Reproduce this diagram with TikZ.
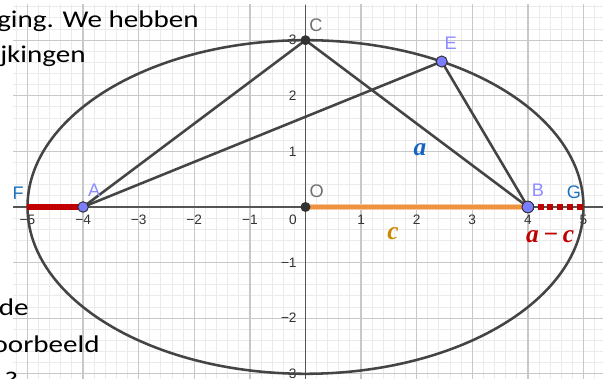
\documentclass[tikz,border=0pt]{standalone}
\usepackage{fontspec}
\setmainfont{Liberation Sans}
\newfontfamily\slidefont{Carlito}
\newfontfamily\lenfont{Liberation Serif}
\definecolor{minorgrid}{HTML}{EBEBEB}
\definecolor{majorgrid}{HTML}{C8C8C8}
\definecolor{axisc}{HTML}{555555}
\definecolor{segc}{HTML}{444444}
\definecolor{ptdark}{HTML}{333333}
\definecolor{ptblue}{HTML}{7D7DFF}
\definecolor{labblue}{HTML}{8C8CFF}
\definecolor{labgray}{HTML}{707070}
\definecolor{labdeep}{HTML}{1C72BF}
\definecolor{redc}{HTML}{C00000}
\definecolor{orangec}{HTML}{EE9440}
\definecolor{orangehalo}{HTML}{F7C9A0}
\definecolor{goldc}{HTML}{CC8A00}
\definecolor{bluec}{HTML}{1565C0}
\definecolor{tickc}{HTML}{333333}
\newcommand{\slidetxt}[1]{\scalebox{1.21}[1]{\slidefont\fontsize{12.3}{14}\selectfont #1}}
\begin{document}
\begin{tikzpicture}[x=1cm,y=1cm,
  seg/.style={draw=segc, line width=1.3pt, line cap=round},
  ptlab/.style={font=\fontsize{9.3}{11}\selectfont, inner sep=0pt},
  ticklab/.style={font=\fontsize{7}{8}\selectfont, text=tickc, inner sep=0pt},
  slide/.style={inner sep=0pt, text=black, anchor=base east},
  mathlab/.style={inner sep=0pt, font=\lenfont\bfseries\itshape\fontsize{13}{15}\selectfont}]
\useasboundingbox (-5.4946,-3.0935) rectangle (5.3507,3.7230);
\clip (-5.4946,-3.0935) rectangle (5.3507,3.7230);
\fill[white] (-5.4946,-3.0935) rectangle (5.3507,3.7230);
% grid
\begin{scope}
  \clip (-5.26,-3.0935) rectangle (5.3507,3.633);
  \draw[minorgrid, line width=0.5pt, step=0.2] (-5.4,-3.2) grid (5.4,3.8);
  \draw[majorgrid, line width=0.7pt, step=1] (-5.4,-3.2) grid (5.4,3.8);
\end{scope}
% axes
\draw[axisc, line width=0.75pt] (-5.26,0) -- (5.3507,0);
\draw[axisc, line width=0.75pt] (0,-3.0935) -- (0,3.633);
% tick labels
\foreach \k in {-5,-4,-3,-2,-1} \node[ticklab] (tx\k) at (\k,-0.234) {−\the\numexpr-\k\relax};
\foreach \k in {1,2,3,4,5} \node[ticklab] (tx\k) at (\k,-0.234) {\k};
\node[ticklab] (tx0) at (-0.225,-0.234) {0};
\foreach \k in {1,2,3} \node[ticklab, anchor=east] (ty\k) at (-0.153,\k) {\k};
\foreach \k in {1,2,3} \node[ticklab, anchor=east] (tyn\k) at (-0.153,-\k) {−\k};
% slide text
\node[slide] (t1) at (-1.915,3.232) {\slidetxt{ging. We hebben}};
\node[slide] (t2) at (-3.948,2.590) {\slidetxt{jkingen}};
\node[slide] (t3) at (-4.973,-1.960) {\slidetxt{de}};
\node[slide] (t4) at (-3.696,-2.626) {\slidetxt{oorbeeld}};
\node[inner sep=0pt, anchor=base west] (t5) at (-5.42,-3.273) {\slidetxt{?}};
% points
\coordinate (F) at (-5,0);
\coordinate (A) at (-4,0);
\coordinate (O) at (0,0);
\coordinate (B) at (4,0);
\coordinate (G) at (5,0);
\coordinate (C) at (0,3);
\coordinate (E) at (2.45,2.616);
% ellipse
\draw[segc, line width=1.3pt] (O) ellipse [x radius=5, y radius=3];
% segments
\draw[seg] (A) -- (C) -- (B);
\draw[seg] (A) -- (E) -- (B);
\draw[redc, line width=2.8pt] (F) -- (A);
\draw[orangehalo, line width=3pt] (O) -- (B);
\draw[orangec, line width=1.6pt] (O) -- (B);
\draw[redc, line width=2.6pt, dash pattern=on 3pt off 2pt] (B) -- (G);
% point marks
\fill[ptdark] (C) circle (0.09);
\fill[ptdark] (O) circle (0.09);
\filldraw[fill=ptblue, draw=ptdark, line width=0.5pt] (A) circle (0.095);
\filldraw[fill=ptblue, draw=ptdark, line width=0.5pt] (B) circle (0.105);
\filldraw[fill=ptblue, draw=ptdark, line width=0.5pt] (E) circle (0.1);
% point labels
\node[ptlab, text=labgray] (lC) at (0.189,3.273) {C};
\node[ptlab, text=labblue] (lE) at (2.611,2.950) {E};
\node[ptlab, text=labgray] (lO) at (0.201,0.275) {O};
\node[ptlab, text=labblue] (lB) at (4.182,0.306) {B};
\node[ptlab, text=labdeep] (lG) at (4.829,0.257) {G};
\node[ptlab, text=labdeep] (lF) at (-5.166,0.246) {F};
\node[ptlab, text=labblue] (lA) at (-3.799,0.293) {A};
% length labels
\node[mathlab, text=bluec] (lena) at (2.059,1.034) {a};
\node[mathlab, text=goldc] (lenc) at (1.574,-0.477) {c};
\node[mathlab, text=redc] (lenac) at (4.40,-0.53) {a\,−\,c};
\end{tikzpicture}
\end{document}
